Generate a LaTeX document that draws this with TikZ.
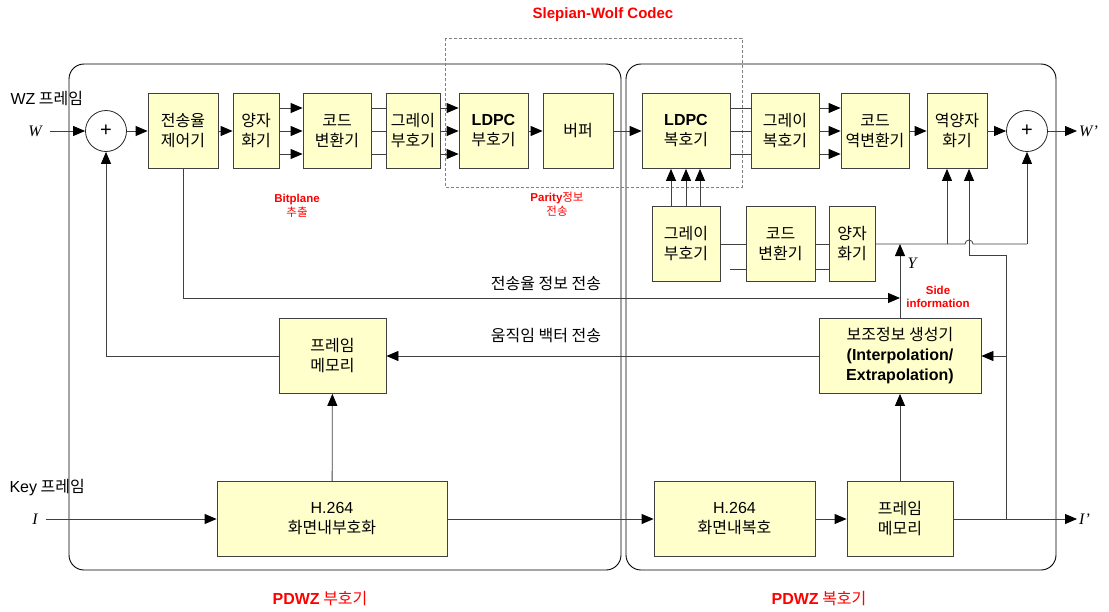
\documentclass[tikz,border=0pt]{standalone}
\usepackage{fontspec}
\setmainfont{Liberation Sans}
\newfontfamily\kr{Noto Sans CJK KR}
\newfontfamily\vars{Liberation Serif}
\usetikzlibrary{positioning, arrows.meta}
\definecolor{blockfill}{HTML}{FFFFCC}
\newcommand{\en}[1]{{\rmfamily #1}}

\begin{document}
\begin{tikzpicture}[
            x=1pt, y=-1pt,
            font=\kr\fontsize{16}{20}\selectfont,
            block/.style={draw=black!75, line width=0.8pt, fill=blockfill, inner sep=0pt, align=center, minimum height=75},
            adder/.style={draw=black!85, line width=0.8pt, circle, minimum size=41, inner sep=0pt, font=\rmfamily\fontsize{20}{20}\selectfont},
            flow/.style={-{Triangle[length=12pt, width=10pt, black]}, black!75, line width=0.8pt},
            wire/.style={black!75, line width=0.8pt},
            note/.style={red, align=center, font=\kr\fontsize{11.5}{13.5}\selectfont},
            var/.style={font=\vars\itshape\fontsize{16}{16}\selectfont}
        ]
        \useasboundingbox (0,0) rectangle (1109,611);

        % ======================================
        % Encoder / decoder frames
        % ======================================
        \draw[black, line width=0.9pt, rounded corners=15] (69,64) rectangle (621,570);
        \draw[black, line width=0.9pt, rounded corners=15] (626,64) rectangle (1056,570);
        \draw[black!50, dash pattern=on 3pt off 2pt] (445,38) rectangle (742,187);

        \node[red, font=\rmfamily\bfseries\fontsize{15}{15}\selectfont] (title) at (603,15) {Slepian-Wolf Codec};
        \node[red] (enclbl) at (320,598) {\en{\bfseries PDWZ} 부호기};
        \node[red] (declbl) at (819,598) {\en{\bfseries PDWZ} 복호기};

        % ======================================
        % Blocks
        % ======================================
        % top row (WZ path)
        \node[adder] (encsum) at (106,131) {+};
        \node[block, minimum width=70] (rate) at (183,131) {전송율\\제어기};
        \node[block, minimum width=46] (quant) at (256,131) {양자\\화기};
        \node[block, minimum width=68] (code) at (337,131) {코드\\변환기};
        \node[block, minimum width=54] (gray) at (413,131) {그레이\\부호기};
        \node[block, minimum width=69] (ldpcenc) at (493.5,131) {\en{\bfseries LDPC}\\부호기};
        \node[block, minimum width=70] (buffer) at (578,131) {버퍼};
        \node[block, minimum width=88] (ldpcdec) at (686,131) {\en{\bfseries LDPC}\\복호기};
        \node[block, minimum width=68] (graydec) at (785,131) {그레이\\복호기};
        \node[block, minimum width=68] (invcode) at (875,131) {코드\\역변환기};
        \node[block, minimum width=60] (invquant) at (957,131) {역양자\\화기};
        \node[adder] (decsum) at (1027,131) {+};

        % side information bitplanes
        \node[block, minimum width=68] (gray2) at (686,244) {그레이\\부호기};
        \node[block, minimum width=69] (code2) at (780.5,244) {코드\\변환기};
        \node[block, minimum width=46] (quant2) at (852,244) {양자\\화기};

        % lower part
        \node[block, minimum width=107] (framemem) at (332.5,356) {프레임\\메모리};
        \node[block, minimum width=162] (sideinfo) at (900,356) {보조정보 생성기\\\en{\bfseries (Interpolation/}\\\en{\bfseries Extrapolation)}};
        \node[block, minimum width=230] (h264enc) at (332,519) {\en{H.264}\\화면내부호화};
        \node[block, minimum width=161] (h264dec) at (734.5,519) {\en{H.264}\\화면내복호};
        \node[block, minimum width=106] (framedec) at (900,519) {프레임\\메모리};

        % ======================================
        % Inputs, outputs and labels
        % ======================================
        \node[anchor=west] (wzlbl) at (7,99) {\en{WZ} 프레임};
        \node[anchor=west] (keylbl) at (6,488) {\en{Key} 프레임};
        \node[var, inner xsep=8pt] (win) at (35,131) {W};
        \node[var, inner xsep=8pt] (iin) at (35,519) {I};
        \node[var, anchor=west, inner xsep=2pt] (wout) at (1077,131) {W’};
        \node[var, anchor=west, inner xsep=2pt] (iout) at (1077,519) {I’};
        \node[var] (ylbl) at (912,263) {Y};

        \node (ratelbl) at (546,283) {전송율 정보 전송};
        \node (mvlbl) at (546,336) {움직임 백터 전송};
        \node[note] (bitlbl) at (297,206) {\en{\bfseries Bitplane}\\추출};
        \node[note] (paritylbl) at (557,204) {\en{\bfseries Parity}정보\\전송};
        \node[note] (silbl) at (938,297) {\en{\bfseries Side}\\\en{\bfseries information}};

        % ======================================
        % Connections
        % ======================================
        \draw[flow] (win) -- (encsum);
        \draw[flow] (encsum) -- (rate);
        \draw[flow] (rate) -- (quant);
        \foreach \dy in {-23,0,23} {
            \draw[flow] ([yshift=\dy pt]quant.east) -- ([yshift=\dy pt]code.west);
            \draw[wire] ([yshift=\dy pt]code.east) -- ([yshift=\dy pt]gray.west);
            \draw[flow] ([yshift=\dy pt]gray.east) -- ([yshift=\dy pt]ldpcenc.west);
            \draw[wire] ([yshift=\dy pt]ldpcdec.east) -- ([yshift=\dy pt]graydec.west);
            \draw[flow] ([yshift=\dy pt]graydec.east) -- ([yshift=\dy pt]invcode.west);
        }
        \draw[flow] (ldpcenc) -- (buffer);
        \draw[flow] (buffer) -- (ldpcdec);
        \draw[flow] (invcode) -- (invquant);
        \draw[flow] (invquant) -- (decsum);
        \draw[flow] (decsum) -- (wout);

        % side information into LDPC decoder
        \foreach \dx in {-15,0,14}
        \draw[flow] ([xshift=\dx pt]gray2.north) -- ([xshift=\dx pt]ldpcdec.south);
        \draw[wire] (gray2) -- (code2);
        \draw[wire] (code2) -- (quant2);
        \coordinate (stub) at (730,269);
        \draw[wire] (stub) -- (stub -| code2.west);
        \draw[wire] (stub -| code2.east) -- (stub -| quant2.west);

        % Y line with hop
        \coordinate (tapA) at (947,244);
        \coordinate (tapB) at (1027,244);
        \draw[wire] (quant2.east) -- (965,244) arc[start angle=180, end angle=0, radius=4pt] -- (tapB);
        \draw[flow] (tapB) -- (decsum.south);
        \draw[flow] (tapA) -- (tapA |- invquant.south);
        \draw[flow] (sideinfo.north) -- (sideinfo.north |- tapA);

        % key frame path
        \coordinate (tapI) at (1006,519);
        \coordinate (bend) at (969,255);
        \draw[flow] (tapI) -- (tapI |- bend) -- (bend) -- (bend |- invquant.south);
        \draw[flow] (sideinfo.east -| tapI) -- (sideinfo.east);
        \draw[flow] (iin) -- (h264enc);
        \draw[flow] (h264enc) -- (framemem);
        \draw[flow] (h264enc) -- (h264dec);
        \draw[flow] (h264dec) -- (framedec);
        \draw[flow] (framedec) -- (iout);
        \draw[flow] (framedec) -- (sideinfo);

        % feedback paths
        \coordinate (rateturn) at (183,298);
        \draw[flow] (rate.south) -- (rateturn) -- (rateturn -| sideinfo.north);
        \draw[flow] (sideinfo) -- (framemem);
        \draw[flow] (framemem.west) -| (encsum.south);

    \end{tikzpicture}
\end{document}
